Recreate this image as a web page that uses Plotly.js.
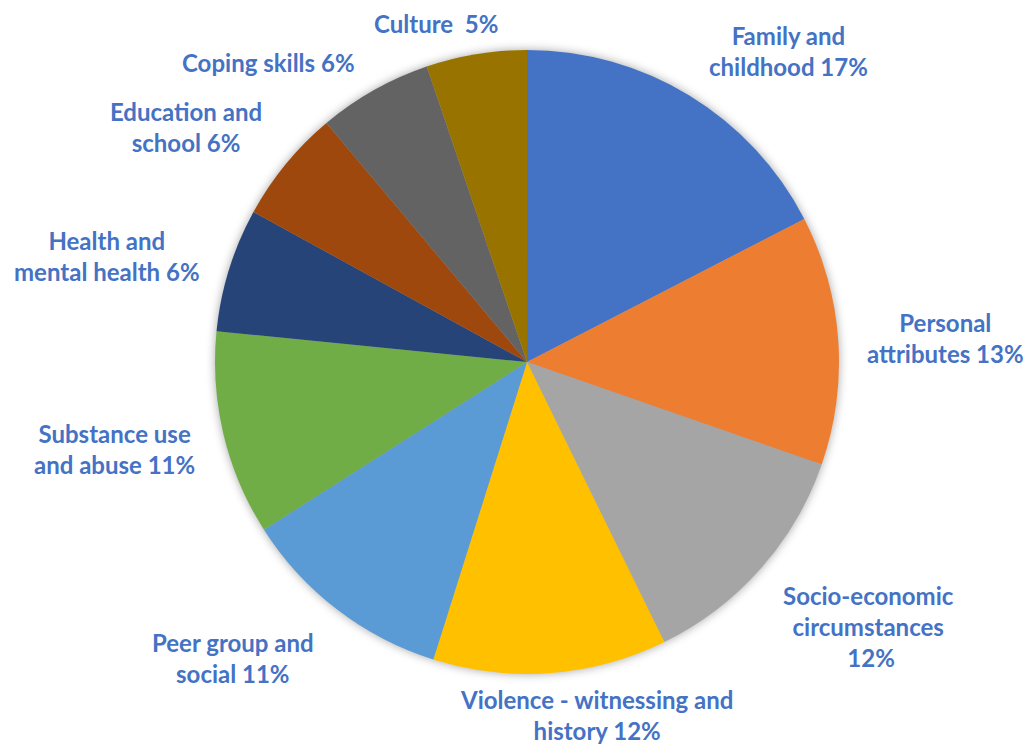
<!DOCTYPE html>
<html>
<head>
<meta charset="utf-8">
<script src="https://cdn.plot.ly/plotly-3.0.1.min.js"></script>
<style>
html,body{margin:0;padding:0;background:#fff;}
#chart{width:1028px;height:745px;}
.pielayer{filter:drop-shadow(0px 0px 5px rgba(0,0,0,0.35));}
</style>
</head>
<body>
<div id="chart"></div>
<script>
// Categories (line breaks as in the reference labels)
var categories = [
  "Family and<br>childhood",
  "Personal<br>attributes",
  "Socio-economic<br>circumstances<br>",
  "Violence - witnessing and<br>history",
  "Peer group and<br>social",
  "Substance use<br>and abuse",
  "Health and<br>mental health",
  "Education and<br>school",
  "Coping skills",
  "Culture "
];
// Share of each category (percent)
var values = [17.4, 12.9, 12.4, 12.1, 11.1, 10.6, 6.4, 5.9, 5.9, 5.2];
var colors = ["#4472C4", "#ED7D31", "#A5A5A5", "#FFC000", "#5B9BD5",
              "#70AD47", "#264478", "#9E480E", "#636363", "#997300"];
// Label anchor positions in pixels (layout only)
var labelPos = [[788,51],[945,338],[868,626],[596,715],[233,658],
                [114,449],[107,256],[186,127],[268,62],[436,23]];

var W = 1028, H = 745;
var total = values.reduce(function(a,b){return a+b;},0);
var annotations = categories.map(function(c,i){
  var pct = Math.round(values[i]/total*100);
  return {
    xref:'paper', yref:'paper',
    x: labelPos[i][0]/W, y: 1 - labelPos[i][1]/H,
    xanchor:'center', yanchor:'middle',
    text: c + ' ' + pct + '%',
    showarrow:false, align:'center',
    font:{family:'Lato, sans-serif', size:24, color:'#4472C4', weight:'bold'}
  };
});

var trace = {
  type:'pie',
  labels: categories,
  values: values,
  marker:{colors:colors, line:{width:0}},
  sort:false,
  direction:'clockwise',
  rotation:0,
  textinfo:'none',
  hoverinfo:'label+percent',
  automargin:false,
  domain:{x:[0.2091,0.8162], y:[0.0953,0.9329]}
};

var layout = {
  width:W, height:H,
  margin:{l:0,r:0,t:0,b:0},
  showlegend:false,
  paper_bgcolor:'#ffffff',
  annotations: annotations
};

Plotly.newPlot('chart',[trace],layout,{displayModeBar:false,staticPlot:true});
</script>
</body>
</html>
